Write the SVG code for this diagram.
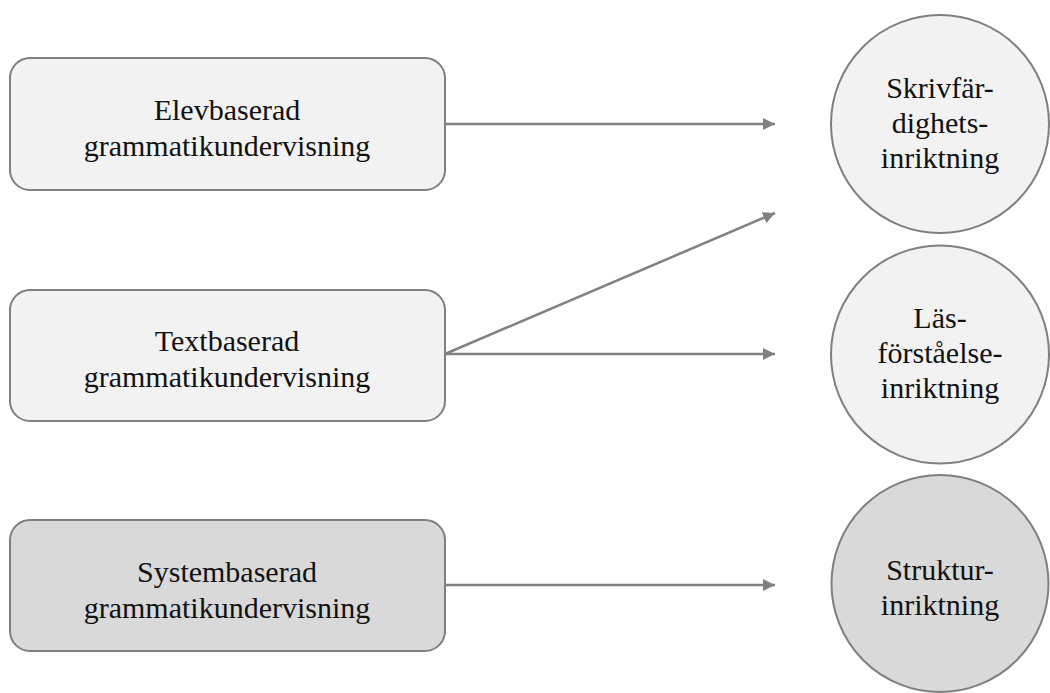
<svg xmlns="http://www.w3.org/2000/svg" width="1050" height="693" viewBox="0 0 1050 693">
<defs>
<marker id="arr" markerWidth="12" markerHeight="12" refX="12" refY="6" orient="auto" markerUnits="userSpaceOnUse">
<path d="M0,0 L12,6 L0,12 Z" fill="#808080"/>
</marker>
<style>
.box{stroke:#7f7f7f;stroke-width:2}
.light{fill:#f2f2f2}
.dark{fill:#d9d9d9}
.lbl{font-family:"Times New Roman",Tinos,"Liberation Serif","DejaVu Serif",serif;font-size:30px;fill:#111;text-anchor:middle}
.conn{stroke:#808080;stroke-width:2.5;fill:none}
</style>
</defs>
<rect width="1050" height="693" fill="#ffffff"/>
<g id="connectors">
<line class="conn" x1="445" y1="124" x2="775" y2="124" marker-end="url(#arr)"/>
<line class="conn" x1="445" y1="354" x2="775" y2="213" marker-end="url(#arr)"/>
<line class="conn" x1="445" y1="354" x2="775" y2="354" marker-end="url(#arr)"/>
<line class="conn" x1="445" y1="585" x2="775" y2="585" marker-end="url(#arr)"/>
</g>
<g id="elev">
<rect class="box light" x="10" y="58" width="435" height="132" rx="20"/>
<text class="lbl" x="227" y="120">Elevbaserad</text>
<text class="lbl" x="227" y="156">grammatikundervisning</text>
</g>
<g id="text">
<rect class="box light" x="10" y="290" width="435" height="131" rx="20"/>
<text class="lbl" x="227" y="351">Textbaserad</text>
<text class="lbl" x="227" y="387">grammatikundervisning</text>
</g>
<g id="system">
<rect class="box dark" x="10" y="520" width="435" height="131" rx="20"/>
<text class="lbl" x="227" y="582">Systembaserad</text>
<text class="lbl" x="227" y="618">grammatikundervisning</text>
</g>
<g id="skriv">
<circle class="box light" cx="940" cy="124" r="109"/>
<text class="lbl" x="940" y="98">Skrivfär-</text>
<text class="lbl" x="940" y="133">dighets-</text>
<text class="lbl" x="940" y="168">inriktning</text>
</g>
<g id="las">
<circle class="box light" cx="940" cy="354.5" r="109"/>
<text class="lbl" x="940" y="328">Läs-</text>
<text class="lbl" x="940" y="363">förståelse-</text>
<text class="lbl" x="940" y="398">inriktning</text>
</g>
<g id="struktur">
<circle class="box dark" cx="940" cy="583.5" r="108.5"/>
<text class="lbl" x="940" y="580">Struktur-</text>
<text class="lbl" x="940" y="615">inriktning</text>
</g>
</svg>
